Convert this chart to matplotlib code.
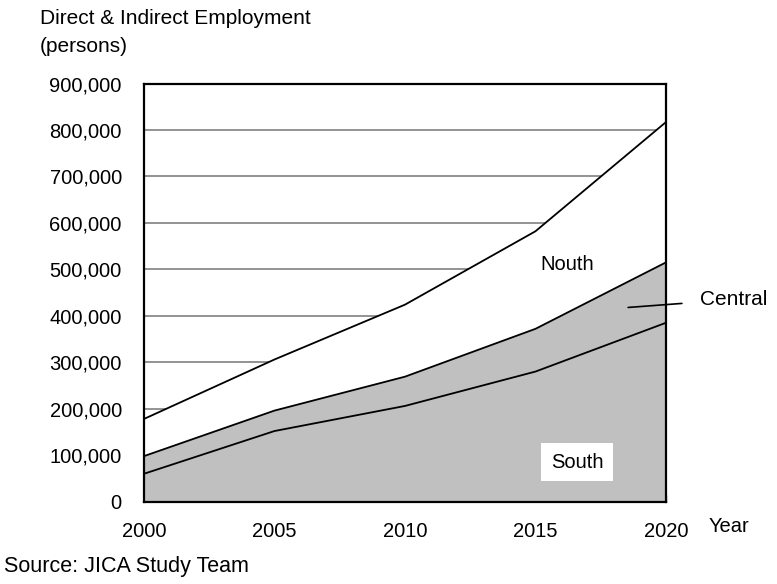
import numpy as np
import matplotlib.pyplot as plt
from matplotlib.ticker import FuncFormatter

plt.rcParams['font.family'] = ['Liberation Sans', 'DejaVu Sans']

years = [2000, 2005, 2010, 2015, 2020]
south = [60000, 152000, 206000, 280000, 385000]
central = [38000, 44000, 63000, 92000, 130000]
nouth = [80000, 110000, 155000, 210000, 302000]

# cumulative tops of each band
south_top = np.array(south)
central_top = south_top + np.array(central)
total_top = central_top + np.array(nouth)

fig = plt.figure(figsize=(7.77, 5.84), dpi=100)
ax = fig.add_axes([0.1853, 0.141, 0.6718, 0.716])

ax.stackplot(years, south, central, nouth,
             colors=['#c0c0c0', '#c0c0c0', 'white'], zorder=2)
for top in (south_top, central_top, total_top):
    ax.plot(years, top, color='black', lw=1.3, zorder=3)

ax.set_xlim(2000, 2020)
ax.set_ylim(0, 900000)
ax.set_xticks(years)
ax.set_yticks(np.arange(0, 900001, 100000))
ax.yaxis.set_major_formatter(FuncFormatter(lambda v, p: f'{int(v):,}'))
ax.grid(axis='y', color='#808080', lw=1.2, zorder=1)
ax.set_axisbelow(True)

ax.tick_params(axis='x', direction='in', length=5, width=1, color='#606060',
               pad=15, labelsize=14.5)
ax.tick_params(axis='y', length=0, pad=16, labelsize=14.5)
for s in ax.spines.values():
    s.set_linewidth(1.6)
    s.set_zorder(4)

fig.text(0.051, 0.969, 'Direct & Indirect Employment', fontsize=15,
         va='center', ha='left')
fig.text(0.051, 0.920, '(persons)', fontsize=15, va='center', ha='left')
fig.text(0.912, 0.098, 'Year', fontsize=14.5, va='center', ha='left')
fig.text(0.005, 0.030, 'Source: JICA Study Team', fontsize=15.5,
         va='center', ha='left')

ax.text(2016.2, 510000, 'Nouth', fontsize=14.5, ha='center', va='center', zorder=5)
ax.text(2016.6, 85000, 'South', fontsize=14.5, ha='center', va='center', zorder=5,
        bbox=dict(facecolor='white', edgecolor='none', pad=7))
ax.annotate('Central', xy=(2018.55, 418000), xytext=(2021.3, 435000),
            fontsize=15, ha='left', va='center', annotation_clip=False,
            arrowprops=dict(arrowstyle='-', color='black', lw=1.2,
                            shrinkA=11, shrinkB=0), zorder=5)

fig.savefig('out.png', dpi=100)
